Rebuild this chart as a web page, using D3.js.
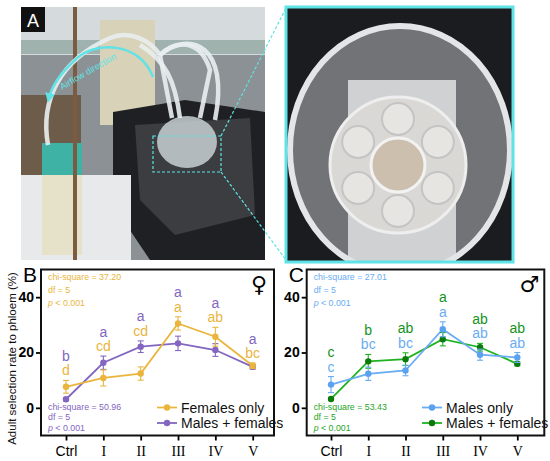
<!DOCTYPE html>
<html>
<head>
<meta charset="utf-8">
<script src="https://cdn.jsdelivr.net/npm/d3@7"></script>
<style>
  body { margin: 0; background: #fff; }
  svg { display: block; }
</style>
</head>
<body>
<svg id="fig"></svg>
<script>
const width = 550;
const height = 461;
const SANS = "'Liberation Sans', Arial, sans-serif";
const SERIF = "'Liberation Serif', 'Times New Roman', serif";

// treatment groups on the x axis
const groups = ["Ctrl", "I", "II", "III", "IV", "V"];

// panel B (females)
const femalesOnly = [7.6, 10.8, 12.4, 30.5, 25.7, 15.2];
const femalesOnlyErr = [2.3, 2.9, 2.4, 2.4, 3.4, 1.0];
const femalesMixed = [3.1, 16.3, 22.1, 23.3, 20.9, 14.8];
const femalesMixedErr = [0.6, 2.4, 2.1, 2.6, 2.3, 0.8];
const femalesOnlyLetters = ["d", "cd", "cd", "a", "ab", "bc"];
const femalesMixedLetters = ["b", "a", "a", "a", "a", "a"];

// panel C (males)
const malesOnly = [8.4, 12.3, 13.5, 28.4, 19.2, 18.2];
const malesOnlyErr = [2.9, 2.4, 1.9, 2.7, 2.0, 1.8];
const malesMixed = [3.2, 16.8, 17.6, 24.8, 21.9, 15.9];
const malesMixedErr = [0.5, 2.5, 2.3, 2.4, 1.4, 0.7];
const malesOnlyLetters = ["c", "bc", "bc", "a", "ab", "ab"];
const malesMixedLetters = ["c", "b", "ab", "a", "ab", "ab"];

const yTicks = [0, 20, 40];

const svg = d3.select("#fig")
    .attr("width", width)
    .attr("height", height)
    .style("font-family", SANS);

// ---------- panel A: schematic of the photographs ----------
drawPhotos();

function drawPhotos() {
    const defs = svg.append("defs");
    defs.append("clipPath").attr("id", "clipL")
        .append("rect").attr("x", 21).attr("y", 7).attr("width", 244).attr("height", 253);
    defs.append("clipPath").attr("id", "clipR")
        .append("rect").attr("x", 286).attr("y", 7).attr("width", 227).attr("height", 255);

    const left = svg.append("g").attr("clip-path", "url(#clipL)");
    left.append("rect").attr("x", 21).attr("y", 7).attr("width", 244).attr("height", 253).attr("fill", "#8c9195");
    left.append("rect").attr("x", 21).attr("y", 7).attr("width", 244).attr("height", 48).attr("fill", "#d5dadc");
    left.append("rect").attr("x", 21).attr("y", 40).attr("width", 244).attr("height", 14).attr("fill", "#9fb2ae");
    left.append("rect").attr("x", 21).attr("y", 95).attr("width", 60).attr("height", 80).attr("fill", "#6e5c4a");
    left.append("rect").attr("x", 100).attr("y", 20).attr("width", 55).attr("height", 105).attr("fill", "#d8d2b8");
    left.append("path")
        .attr("d", "M113,112 L185,100 L265,112 L265,260 L150,260 L113,205 Z")
        .attr("fill", "#1f2023");
    left.append("path")
        .attr("d", "M135,125 L250,118 L255,215 L175,235 L140,200 Z")
        .attr("fill", "#3b3d40");
    left.append("rect").attr("x", 21).attr("y", 175).attr("width", 110).attr("height", 85).attr("fill", "#e7e9eb");
    left.append("rect").attr("x", 42).attr("y", 143).attr("width", 40).attr("height", 112).attr("fill", "#e6e1c9");
    left.append("rect").attr("x", 42).attr("y", 143).attr("width", 40).attr("height", 32).attr("fill", "#3fb2a6");
    left.append("ellipse").attr("cx", 187).attr("cy", 142).attr("rx", 30).attr("ry", 26)
        .attr("fill", "#c8d0d4").attr("opacity", 0.85);
    left.append("rect").attr("x", 73).attr("y", 7).attr("width", 4).attr("height", 253).attr("fill", "#7b5b42");
    const tubes = [
        "M48,145 C40,100 60,60 110,38 C130,30 150,40 160,55 L172,118",
        "M160,55 C175,40 200,38 210,70 L200,118",
        "M160,55 C190,30 230,45 215,120",
        "M140,45 C165,60 175,80 180,118"
    ];
    left.selectAll(".tube").data(tubes).enter().append("path")
        .attr("d", d => d)
        .attr("fill", "none")
        .attr("stroke", "#e9eef0")
        .attr("stroke-width", 4.5)
        .attr("opacity", 0.9);

    // airflow arrow
    defs.append("marker").attr("id", "arrow")
        .attr("viewBox", "0 0 10 10").attr("refX", 5).attr("refY", 5)
        .attr("markerWidth", 4).attr("markerHeight", 4).attr("orient", "auto-start-reverse")
        .append("path").attr("d", "M0,0 L10,5 L0,10 Z").attr("fill", "#5fe3e6");
    left.append("path")
        .attr("d", "M153,77 C140,42 95,40 75,60 C62,72 52,85 49,98")
        .attr("fill", "none")
        .attr("stroke", "#5fe3e6")
        .attr("stroke-width", 2.5)
        .attr("marker-end", "url(#arrow)");
    left.append("text")
        .attr("transform", "translate(62,90) rotate(-30)")
        .attr("font-size", 9)
        .attr("fill", "#5fe3e6")
        .text("Airflow direction");

    // dashed zoom box
    left.append("rect").attr("x", 153).attr("y", 136).attr("width", 68).attr("height", 36)
        .attr("fill", "none").attr("stroke", "#5fe3e6").attr("stroke-width", 1.2)
        .attr("stroke-dasharray", "3,2");

    left.append("rect").attr("x", 21).attr("y", 7).attr("width", 24).attr("height", 25).attr("fill", "#111");
    left.append("text").attr("x", 33).attr("y", 27).attr("text-anchor", "middle")
        .attr("font-size", 18).attr("fill", "#fff").text("A");

    const right = svg.append("g").attr("clip-path", "url(#clipR)");
    right.append("rect").attr("x", 286).attr("y", 7).attr("width", 227).attr("height", 255).attr("fill", "#1b1c1f");
    right.append("rect").attr("x", 348).attr("y", 80).attr("width", 108).attr("height", 182).attr("fill", "#ececec");
    right.append("ellipse").attr("cx", 400).attr("cy", 150).attr("rx", 110).attr("ry", 124)
        .attr("fill", "#b8bbbe").attr("fill-opacity", 0.55)
        .attr("stroke", "#e3e5e7").attr("stroke-width", 6);
    right.append("circle").attr("cx", 398).attr("cy", 165).attr("r", 68)
        .attr("fill", "#dad8d4").attr("stroke", "#eeeeee").attr("stroke-width", 3);
    const cups = d3.range(6).map(i => i * Math.PI / 3 - Math.PI / 2);
    right.selectAll(".cup").data(cups).enter().append("circle")
        .attr("cx", a => 398 + 46 * Math.cos(a))
        .attr("cy", a => 165 + 46 * Math.sin(a))
        .attr("r", 16)
        .attr("fill", "#e6e5e2")
        .attr("stroke", "#c4c4c4")
        .attr("stroke-width", 2);
    right.append("circle").attr("cx", 398).attr("cy", 165).attr("r", 27)
        .attr("fill", "#cdbfae").attr("stroke", "#f2f2f2").attr("stroke-width", 3);

    svg.append("rect").attr("x", 286).attr("y", 7).attr("width", 227).attr("height", 255)
        .attr("fill", "none").attr("stroke", "#5fe3e6").attr("stroke-width", 3);

    svg.append("line").attr("x1", 221).attr("y1", 136).attr("x2", 286).attr("y2", 8)
        .attr("stroke", "#5fe3e6").attr("stroke-width", 1.2).attr("stroke-dasharray", "3,2");
    svg.append("line").attr("x1", 221).attr("y1", 172).attr("x2", 286).attr("y2", 260)
        .attr("stroke", "#5fe3e6").attr("stroke-width", 1.2).attr("stroke-dasharray", "3,2");
}

// ---------- panels B and C ----------
const yFrame = [435.5, 269.5];

const panels = [
    {
        label: "B", symbol: "\u2640",
        frame: [41, 274], xRange: [66, 252.7],
        upper: { name: "Males + females", values: femalesMixed, err: femalesMixedErr, letters: femalesMixedLetters, color: "#8366c0", dot: "#8366c0", text: "#8366c0" },
        lower: { name: "Females only", values: femalesOnly, err: femalesOnlyErr, letters: femalesOnlyLetters, color: "#e9b53d", dot: "#e9b53d", text: "#e9b53d" },
        topStat: { text: "37.20", color: "#e9b53d" }, bottomStat: { text: "50.96", color: "#8366c0" },
        legendX: 157, yLabel: true
    },
    {
        label: "C", symbol: "\u2642",
        frame: [306.7, 544.3], xRange: [331, 517.3],
        upper: { name: "Males + females", values: malesMixed, err: malesMixedErr, letters: malesMixedLetters, color: "#1fb31f", dot: "#0b7a0b", text: "#13931a" },
        lower: { name: "Males only", values: malesOnly, err: malesOnlyErr, letters: malesOnlyLetters, color: "#6aacf3", dot: "#5aa2f0", text: "#6aacf3" },
        topStat: { text: "27.01", color: "#6aacf3" }, bottomStat: { text: "53.43", color: "#1fa51f" },
        legendX: 422, yLabel: false
    }
];

panels.forEach(drawPanel);

function drawPanel(p) {
    const x = d3.scalePoint().domain(groups).range(p.xRange);
    const y = d3.scaleLinear().domain([-10, 50]).range(yFrame);
    const g = svg.append("g");

    // axes
    const yAxis = g.append("g")
        .attr("transform", `translate(${p.frame[0]},0)`)
        .call(d3.axisLeft(y).tickValues(yTicks).tickSize(5).tickPadding(2));
    yAxis.select(".domain").remove();
    yAxis.selectAll(".tick line").attr("stroke-width", 1.8);
    yAxis.selectAll(".tick text")
        .style("font-family", SANS).style("font-size", "14px").style("font-weight", "bold")
        .attr("fill", "#000");

    const xAxis = g.append("g")
        .attr("transform", `translate(0,${yFrame[0]})`)
        .call(d3.axisBottom(x).tickSize(5).tickPadding(6));
    xAxis.select(".domain").remove();
    xAxis.selectAll(".tick line").attr("stroke-width", 1.8);
    xAxis.selectAll(".tick text")
        .attr("fill", "#000")
        .style("font-size", "14px")
        .style("font-family", d => d === "Ctrl" ? SANS : SERIF);

    g.append("rect")
        .attr("x", p.frame[0]).attr("y", yFrame[1])
        .attr("width", p.frame[1] - p.frame[0]).attr("height", yFrame[0] - yFrame[1])
        .attr("fill", "none").attr("stroke", "#111").attr("stroke-width", 2);

    g.append("text").attr("x", p.frame[0] - 18).attr("y", 282)
        .style("font-size", "21px").attr("fill", "#000").text(p.label);
    g.append("text").attr("x", p.frame[1] - 15).attr("y", 292).attr("text-anchor", "middle")
        .style("font-family", "'DejaVu Sans', sans-serif")
        .style("font-size", "22px").style("font-weight", "bold").attr("fill", "#000").text(p.symbol);

    if (p.yLabel) {
        g.append("text")
            .attr("transform", `translate(16,${(yFrame[0] + yFrame[1]) / 2 + 6}) rotate(-90)`)
            .attr("text-anchor", "middle")
            .style("font-size", "11.5px").attr("fill", "#111")
            .text("Adult selection rate to phloem (%)");
    }

    // series
    const line = d3.line().x((d, i) => x(groups[i])).y(d => y(d));
    [p.upper, p.lower].forEach(s => {
        g.append("path").datum(s.values)
            .attr("d", line).attr("fill", "none")
            .attr("stroke", s.color).attr("stroke-width", 1.8);
    });
    [p.upper, p.lower].forEach(s => {
        const eb = g.append("g").attr("stroke", s.color).attr("stroke-width", 1.1);
        s.values.forEach((v, i) => {
            const cx = x(groups[i]);
            const top = y(v + s.err[i]), bot = y(v - s.err[i]);
            eb.append("line").attr("x1", cx).attr("x2", cx).attr("y1", top).attr("y2", bot);
            eb.append("line").attr("x1", cx - 3).attr("x2", cx + 3).attr("y1", top).attr("y2", top);
            eb.append("line").attr("x1", cx - 3).attr("x2", cx + 3).attr("y1", bot).attr("y2", bot);
        });
        g.selectAll(null).data(s.values).enter().append("circle")
            .attr("cx", (d, i) => x(groups[i]))
            .attr("cy", d => y(d))
            .attr("r", 3.2)
            .attr("fill", s.dot);
    });

    // significance letters stacked above the highest error bar
    groups.forEach((grp, i) => {
        const maxTop = Math.max(p.upper.values[i] + p.upper.err[i], p.lower.values[i] + p.lower.err[i]);
        const base = y(maxTop) - 5;
        g.append("text").attr("x", x(grp)).attr("y", base).attr("text-anchor", "middle")
            .style("font-size", "14px").attr("fill", p.lower.text).text(p.lower.letters[i]);
        g.append("text").attr("x", x(grp)).attr("y", base - 14.5).attr("text-anchor", "middle")
            .style("font-size", "14px").attr("fill", p.upper.text).text(p.upper.letters[i]);
    });

    // statistics
    const drawStat = (st, y0, step) => {
        const t = g.append("g").attr("fill", st.color).style("font-size", "8.8px");
        [`chi-square = ${st.text}`, "df = 5", "p"].forEach((txt, k) => {
            const el = t.append("text").attr("x", p.frame[0] + 7).attr("y", y0 + k * step);
            if (txt === "p") {
                el.append("tspan").style("font-style", "italic").text("p");
                el.append("tspan").text(" < 0.001");
            } else {
                el.text(txt);
            }
        });
    };
    drawStat(p.topStat, 280, 12.8);
    drawStat(p.bottomStat, 410, 10.3);

    // legend
    const leg = g.append("g").attr("transform", `translate(${p.legendX},0)`);
    [p.lower, p.upper].forEach((s, k) => {
        const ly = 407.5 + k * 15.5;
        leg.append("line").attr("x1", 0).attr("x2", 20).attr("y1", ly).attr("y2", ly)
            .attr("stroke", s.color).attr("stroke-width", 1.8);
        leg.append("circle").attr("cx", 10).attr("cy", ly).attr("r", 3.2).attr("fill", s.dot);
        leg.append("text").attr("x", 24).attr("y", ly + 5)
            .style("font-size", "14px").attr("fill", "#111").text(s.name);
    });
}
</script>
</body>
</html>
